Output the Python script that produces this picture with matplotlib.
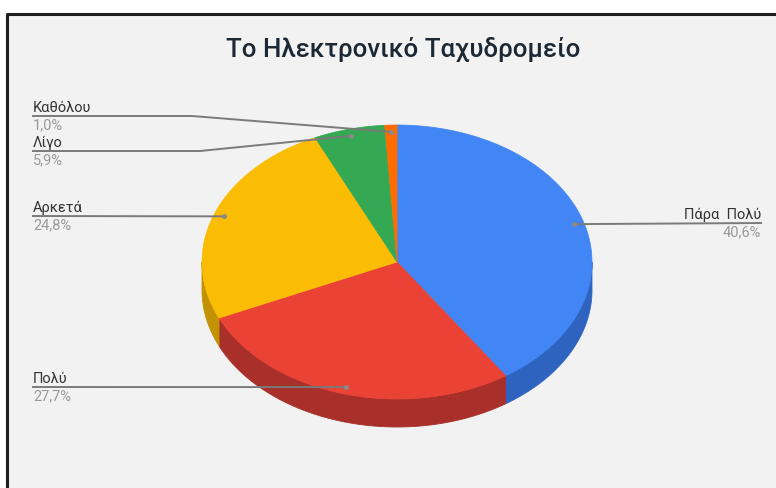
import numpy as np
import matplotlib
matplotlib.use("Agg")
import matplotlib.pyplot as plt
from matplotlib.patches import Polygon, Rectangle

# Survey answers, in drawing order (clockwise from 12 o'clock)
categories = ["Πάρα  Πολύ", "Πολύ", "Αρκετά", "Λίγο", "Καθόλου"]
shares = [40.6, 27.7, 24.8, 5.9, 1.0]
pct_labels = ["40,6%", "27,7%", "24,8%", "5,9%", "1,0%"]
title = "Το Ηλεκτρονικό Ταχυδρομείο"

top_colors = ["#4285f4", "#ea4335", "#fbbc04", "#34a853", "#ff6d01"]
side_colors = ["#2f63c0", "#a9302a", "#c29204", "#23803c", "#c25304"]

W, H = 776, 489
fig = plt.figure(figsize=(W / 100, H / 100), dpi=100)
fig.patch.set_facecolor("white")
ax = fig.add_axes([0, 0, 1, 1])
ax.set_xlim(0, W)
ax.set_ylim(H, 0)
ax.axis("off")

# chart panel with a dark edge on the top and left
ax.add_patch(Rectangle((7, 15), W, H, facecolor="#f2f2f2", edgecolor="none", zorder=0))
ax.plot([7, 7, W], [H, 15, 15], color="#1e1e1e", lw=2.2, zorder=1, solid_capstyle="butt")

ax.text(403, 50, title, ha="center", va="center", fontsize=18.6,
        fontfamily="Roboto", fontweight="medium", color="#1c2833", zorder=5)

# tilted pie geometry
cx, cy = 397, 263
rx, ry = 195, 137
depth = 28


def pt(theta, r=1.0, dz=0.0):
    return cx + r * rx * np.sin(theta), cy - r * ry * np.cos(theta) + dz


fracs = np.array(shares) / sum(shares)
edges = np.concatenate([[0], np.cumsum(fracs)]) * 2 * np.pi

# side walls (only the front half, pi/2 .. 3pi/2, is visible)
for i in range(len(shares)):
    a0 = max(edges[i], np.pi / 2)
    a1 = min(edges[i + 1], 3 * np.pi / 2)
    if a1 <= a0:
        continue
    t = np.linspace(a0, a1, 80)
    xs, ys = pt(t)
    upper = np.column_stack([xs, ys])
    lower = np.column_stack([xs, ys + depth])[::-1]
    ax.add_patch(Polygon(np.vstack([upper, lower]), closed=True,
                         facecolor=side_colors[i], edgecolor=side_colors[i],
                         lw=0.6, zorder=2))

# top faces
for i in range(len(shares)):
    t = np.linspace(edges[i], edges[i + 1], 200)
    xs, ys = pt(t)
    verts = np.vstack([[cx, cy], np.column_stack([xs, ys])])
    ax.add_patch(Polygon(verts, closed=True, facecolor=top_colors[i],
                         edgecolor=top_colors[i], lw=0.5, zorder=3))

# labels with leader lines
name_color = "#333333"
pct_color = "#9a9a9a"
line_color = "#7a7a7a"
label_fs = 10.5
mids = (edges[:-1] + edges[1:]) / 2
anchors = [pt(m, 0.95) for m in mids]

# (text x, underline y, alignment, x where the line leaves the underline)
label_layout = [
    (761, 224, "right", None),
    (33, 388, "left", None),
    (33, 217, "left", None),
    (33, 152, "left", 200),
    (33, 117, "left", 192),
]

for i, (tx, ly, ha, bend) in enumerate(label_layout):
    axp, ayp = anchors[i]
    if bend is None:
        xs_line = [tx, axp]
        ys_line = [ly, ayp]
    else:
        xs_line = [tx, bend, axp]
        ys_line = [ly, ly, ayp]
    ax.plot(xs_line, ys_line, color=line_color, lw=1.4, zorder=4)
    ax.plot([axp], [ayp], "o", ms=2.5, color="#8a8a8a", zorder=6)
    ax.text(tx, ly - 2, categories[i], ha=ha, va="bottom", fontsize=label_fs,
            fontfamily="Roboto", color=name_color, zorder=5)
    ax.text(tx, ly + 1, pct_labels[i], ha=ha, va="top", fontsize=label_fs,
            fontfamily="Roboto", color=pct_color, zorder=5)

fig.savefig("out.png", dpi=100, facecolor=fig.get_facecolor())
